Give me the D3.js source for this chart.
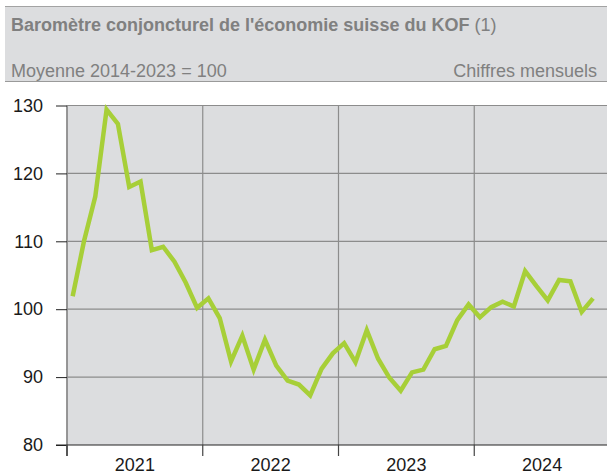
<!DOCTYPE html>
<html>
<head>
<meta charset="utf-8">
<script src="https://cdn.jsdelivr.net/npm/d3@7"></script>
<style>
  body { margin: 0; background: #fff; }
  svg { display: block; font-family: "Liberation Sans", Arial, sans-serif; }
</style>
</head>
<body>
<svg width="607" height="472"></svg>
<script>
const years = ["2021", "2022", "2023", "2024"];
// KOF barometer, monthly, Jan 2021 .. Nov 2024
const kofValues = [
  101.9, 110.0, 116.6, 129.4, 127.3, 118.0, 118.8, 108.7, 109.2, 107.0, 103.9, 100.2,
  101.6, 98.7, 92.3, 96.1, 91.1, 95.5, 91.7, 89.5, 88.9, 87.3, 91.2, 93.5,
  95.0, 92.2, 96.9, 92.7, 89.9, 88.0, 90.7, 91.1, 94.1, 94.6, 98.4, 100.7,
  98.8, 100.3, 101.1, 100.4, 105.6, 103.4, 101.3, 104.3, 104.1, 99.6, 101.6
];
const yTicks = [80, 90, 100, 110, 120, 130];

const svg = d3.select('svg');
const width = 607;
const plot = { left: 67, top: 105.5, bottom: 445, right: 610 };
const grey = '#dcdddf';

// header band
svg.append('rect')
  .attr('x', 5).attr('y', 6).attr('width', width - 5).attr('height', 75)
  .attr('fill', grey);
svg.append('line').attr('x1', 5).attr('x2', width).attr('y1', 6.5).attr('y2', 6.5)
  .attr('stroke', '#a3a3a3').attr('stroke-width', 1);
svg.append('line').attr('x1', 5).attr('x2', width).attr('y1', 81.5).attr('y2', 81.5)
  .attr('stroke', '#9a9a9a').attr('stroke-width', 1);

const title = svg.append('text')
  .attr('x', 11).attr('y', 31)
  .attr('fill', '#808080')
  .style('font-size', '18px');
title.append('tspan').attr('font-weight', 'bold').text("Baromètre conjoncturel de l'économie suisse du KOF");
title.append('tspan').text(' (1)');

svg.append('text')
  .attr('x', 11).attr('y', 77)
  .attr('fill', '#808080')
  .style('font-size', '18px')
  .text('Moyenne 2014-2023 = 100');
svg.append('text')
  .attr('x', 597).attr('y', 77)
  .attr('text-anchor', 'end')
  .attr('fill', '#808080')
  .style('font-size', '18px')
  .text('Chiffres mensuels');

// scales
const x = d3.scaleLinear().domain([0, years.length * 12]).range([plot.left, plot.right]);
const y = d3.scaleLinear().domain([80, 130]).range([plot.bottom, plot.top]);

// plot background
svg.append('rect')
  .attr('x', plot.left).attr('y', plot.top)
  .attr('width', width - plot.left).attr('height', plot.bottom - plot.top)
  .attr('fill', grey);

// horizontal grid
svg.append('g')
  .selectAll('line')
  .data(yTicks.slice(1))
  .enter()
  .append('line')
  .attr('x1', plot.left).attr('x2', width)
  .attr('y1', d => y(d)).attr('y2', d => y(d))
  .attr('stroke', '#8c8c8c').attr('stroke-width', 1.2);

// vertical grid at year boundaries
svg.append('g')
  .selectAll('line')
  .data(years.map((d, i) => i * 12))
  .enter()
  .append('line')
  .attr('x1', d => x(d)).attr('x2', d => x(d))
  .attr('y1', plot.top).attr('y2', plot.bottom)
  .attr('stroke', '#8c8c8c').attr('stroke-width', d => d === 0 ? 1.8 : 1.2);

// y axis ticks + labels
const yAxis = svg.append('g')
  .attr('transform', `translate(${plot.left},0)`)
  .call(d3.axisLeft(y).tickValues(yTicks).tickSize(11).tickPadding(13).tickFormat(d3.format('d')));
yAxis.select('.domain').remove();
yAxis.selectAll('.tick line').attr('stroke', '#222');
yAxis.selectAll('text')
  .attr('fill', '#1a1a1a')
  .style('font-size', '18px')
  .style('font-family', '"Liberation Sans", Arial, sans-serif');

// x axis line + year ticks
svg.append('line')
  .attr('x1', 56).attr('x2', width)
  .attr('y1', plot.bottom).attr('y2', plot.bottom)
  .attr('stroke', '#222').attr('stroke-width', 1.2);
svg.append('g')
  .selectAll('line')
  .data(years.map((d, i) => i * 12))
  .enter()
  .append('line')
  .attr('x1', d => x(d)).attr('x2', d => x(d))
  .attr('y1', plot.bottom).attr('y2', plot.bottom + 11)
  .attr('stroke', '#444').attr('stroke-width', d => d === 0 ? 1.8 : 1.2);
svg.append('g')
  .selectAll('text')
  .data(years)
  .enter()
  .append('text')
  .attr('x', (d, i) => x(i * 12 + 6))
  .attr('y', 471)
  .attr('text-anchor', 'middle')
  .attr('fill', '#1a1a1a')
  .style('font-size', '18px')
  .text(d => d);

// the series line
svg.append('clipPath').attr('id', 'clip')
  .append('rect').attr('x', plot.left).attr('y', plot.top - 10)
  .attr('width', width - plot.left).attr('height', plot.bottom - plot.top + 10);

const line = d3.line()
  .x((d, i) => x(i + 0.5))
  .y(d => y(d));

svg.append('path')
  .datum(kofValues)
  .attr('clip-path', 'url(#clip)')
  .attr('fill', 'none')
  .attr('stroke', '#a7cf38')
  .attr('stroke-width', 4.5)
  .attr('stroke-linejoin', 'miter')
  .attr('d', line);
</script>
</body>
</html>
